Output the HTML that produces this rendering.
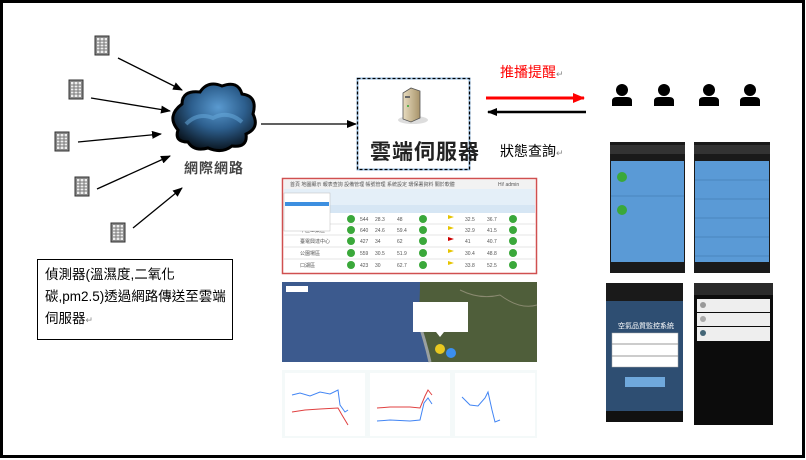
<!DOCTYPE html>
<html><head><meta charset="utf-8"><style>
html,body{margin:0;padding:0;background:#fff}
body{width:806px;height:460px;overflow:hidden;position:relative;font-family:"Liberation Sans","Noto Sans CJK TC",sans-serif}
.t{position:absolute;font-family:"Liberation Sans","Noto Sans CJK TC",sans-serif;white-space:nowrap}
</style></head><body>
<svg width="806" height="460" style="position:absolute;left:0;top:0" xmlns="http://www.w3.org/2000/svg">
<defs>
<marker id="ah" markerWidth="10" markerHeight="8" refX="9" refY="4" orient="auto" markerUnits="userSpaceOnUse"><path d="M0,0L10,4L0,8z" fill="#000"/></marker>
<marker id="ahr" markerWidth="12" markerHeight="10" refX="11" refY="5" orient="auto" markerUnits="userSpaceOnUse"><path d="M0,0L12,5L0,10z" fill="#f00"/></marker>
<radialGradient id="cg" cx="0.55" cy="0.35" r="0.65"><stop offset="0" stop-color="#5a9ad0"/><stop offset="0.5" stop-color="#2d5f8e"/><stop offset="1" stop-color="#0a1520"/></radialGradient>
<linearGradient id="sv" x1="0" x2="1"><stop offset="0" stop-color="#e8dcc0"/><stop offset="1" stop-color="#a8946a"/></linearGradient>
<g id="bld"><rect x="0" y="0" width="14" height="19" fill="#888" stroke="#333" stroke-width="1"/><rect x="2" y="2" width="10" height="15" fill="#eee"/><path d="M2,5H12M2,8H12M2,11H12M2,14H12M5,2V17M9,2V17" stroke="#777" stroke-width="1"/></g>
<g id="ppl"><circle cx="10" cy="6" r="6" fill="#000"/><path d="M0,22V17Q0,13 5,13H15Q20,13 20,17V22z" fill="#000"/></g>
</defs>
<rect x="1.5" y="1.5" width="802" height="455" fill="none" stroke="#000" stroke-width="3"/>
<use href="#bld" x="95" y="36"/><use href="#bld" x="69" y="80"/><use href="#bld" x="55" y="132"/><use href="#bld" x="75" y="177"/><use href="#bld" x="111" y="223"/>
<g stroke="#000" stroke-width="1.3" marker-end="url(#ah)">
<line x1="118" y1="58" x2="182" y2="90"/><line x1="91" y1="98" x2="170" y2="111"/><line x1="78" y1="142" x2="161" y2="134"/><line x1="97" y1="189" x2="170" y2="156"/><line x1="133" y1="228" x2="182" y2="188"/>
<line x1="261" y1="124" x2="356" y2="124"/>
</g>
<g fill="url(#cg)" stroke="#000" stroke-width="3">
<path d="M178,130 Q166,116 182,104 Q182,90 200,92 Q208,80 222,86 Q238,80 242,94 Q258,96 253,114 Q260,128 246,134 Q248,148 232,146 Q222,154 208,148 Q194,152 188,142 Q174,142 178,130z"/>
</g>
<path d="M186,124 Q198,112 213,118 Q228,110 242,122" stroke="#6aaee0" stroke-width="4" fill="none" opacity="0.5"/>
<rect x="357.5" y="78.5" width="112" height="91" fill="#fff" stroke="#9cc3e8" stroke-width="2"/>
<rect x="357.5" y="78.5" width="112" height="91" fill="none" stroke="#000" stroke-width="1.3" stroke-dasharray="3,2"/>
<ellipse cx="413" cy="120" rx="15" ry="4" fill="#ddd"/>
<path d="M403,93L411,88L420,91L420,118L411,122L403,119z" fill="url(#sv)" stroke="#555" stroke-width="0.8"/>
<rect x="405" y="96" width="5" height="2" fill="#666"/><circle cx="408" cy="106" r="1" fill="#3a3"/>
<line x1="486" y1="98" x2="584" y2="98" stroke="#f00" stroke-width="3" marker-end="url(#ahr)"/>
<line x1="586" y1="112" x2="488" y2="112" stroke="#000" stroke-width="2.5" marker-end="url(#ah)"/>
<use href="#ppl" x="612" y="84"/><use href="#ppl" x="654" y="84"/><use href="#ppl" x="699" y="84"/><use href="#ppl" x="740" y="84"/>
<rect x="37.5" y="259.5" width="195" height="80" fill="#fff" stroke="#000" stroke-width="1"/>
<rect x="282.5" y="178.5" width="254" height="95" fill="#fff" stroke="#d05050" stroke-width="1.5"/>
<rect x="284" y="180" width="251" height="9" fill="#f2f2f2"/>
<rect x="284" y="189" width="251" height="16" fill="#e4eff8"/>
<rect x="284" y="205" width="251" height="8" fill="#d6e6f4"/>
<g stroke="#e5e5e5"><line x1="284" y1="224" x2="535" y2="224"/><line x1="284" y1="235" x2="535" y2="235"/><line x1="284" y1="247" x2="535" y2="247"/><line x1="284" y1="259" x2="535" y2="259"/></g>
<g fill="#3aa83a">
<circle cx="351" cy="219" r="4"/><circle cx="351" cy="230" r="4"/><circle cx="351" cy="241" r="4"/><circle cx="351" cy="253" r="4"/><circle cx="351" cy="265" r="4"/>
<circle cx="423" cy="219" r="4"/><circle cx="423" cy="230" r="4"/><circle cx="423" cy="241" r="4"/><circle cx="423" cy="253" r="4"/><circle cx="423" cy="265" r="4"/>
<circle cx="513" cy="219" r="4"/><circle cx="513" cy="230" r="4"/><circle cx="513" cy="241" r="4"/><circle cx="513" cy="253" r="4"/><circle cx="513" cy="265" r="4"/>
</g>
<g fill="#e6c400"><path d="M448,215l6,2l-6,2z"/><path d="M448,226l6,2l-6,2z"/><path d="M448,249l6,2l-6,2z"/><path d="M448,261l6,2l-6,2z"/></g>
<path d="M448,237l6,2l-6,2z" fill="#c00"/>
<g fill="#555" font-size="5" font-family="Liberation Sans"><text x="360" y="221">544</text><text x="360" y="232">640</text><text x="360" y="243">427</text><text x="360" y="255">559</text><text x="360" y="267">423</text>
<text x="375" y="221">28.3</text><text x="397" y="221">48</text><text x="465" y="221">32.5</text><text x="487" y="221">36.7</text>
<text x="375" y="232">24.6</text><text x="397" y="232">59.4</text><text x="465" y="232">32.9</text><text x="487" y="232">41.5</text>
<text x="375" y="243">34</text><text x="397" y="243">62</text><text x="465" y="243">41</text><text x="487" y="243">40.7</text>
<text x="375" y="255">30.5</text><text x="397" y="255">51.9</text><text x="465" y="255">30.4</text><text x="487" y="255">48.8</text>
<text x="375" y="267">30</text><text x="397" y="267">62.7</text><text x="465" y="267">33.8</text><text x="487" y="267">52.5</text>
<text x="300" y="232">中區工業區</text><text x="300" y="243">臺電興達中心</text><text x="300" y="255">公園場區</text><text x="300" y="267">口湖區</text>
<text x="290" y="186">首頁  地圖顯示  報表查詢  設備管理  帳號管理  系統設定  環保署資料  關於軟體</text><text x="498" y="186">Hi! admin</text></g>
<rect x="284" y="193" width="46" height="38" fill="#fff" stroke="#bbb" stroke-width="0.5"/>
<rect x="285" y="202" width="44" height="4" fill="#3d8fe0"/>
<rect x="282" y="282" width="255" height="80" fill="#3c5a8e"/>
<path d="M420,282L537,282L537,362L430,362Q425,340 418,320Q420,300 420,282z" fill="#4f5e3a"/>
<path d="M460,290Q480,300 500,295Q520,310 537,305" stroke="#8a8a70" fill="none"/>
<path d="M418,320Q425,340 430,362" stroke="#9aa0a0" stroke-width="3" fill="none"/>
<rect x="286" y="286" width="22" height="6" fill="#fff"/>
<rect x="413" y="302" width="55" height="30" fill="#fff"/>
<path d="M436,332L440,337L444,332z" fill="#fff"/>
<circle cx="440" cy="349" r="5" fill="#e8c820"/><circle cx="451" cy="353" r="5" fill="#3b8ff0"/>
<rect x="282" y="370" width="255" height="68" fill="#f4f9f9"/>
<rect x="285" y="373" width="80" height="63" fill="#fff"/><rect x="370" y="373" width="80" height="63" fill="#fff"/><rect x="455" y="373" width="80" height="63" fill="#fff"/>
<polyline points="292,395 300,393 310,396 320,392 330,394 338,390 340,405 345,412 348,410" stroke="#4285f4" fill="none"/>
<polyline points="292,412 305,410 320,409 338,408 342,415 348,425" stroke="#e04040" fill="none"/>
<polyline points="377,408 390,407 410,407 420,408 425,396 428,390 432,395" stroke="#e04040" fill="none"/>
<polyline points="377,421 390,420 410,421 420,420 424,403 428,398 432,404" stroke="#4285f4" fill="none"/>
<polyline points="462,397 470,405 478,406 485,398 488,392 492,410 495,422 500,420" stroke="#4285f4" fill="none"/>
<rect x="610" y="142" width="75" height="131" fill="#1a1a1a"/>
<rect x="610" y="145" width="75" height="9" fill="#333"/>
<rect x="611" y="161" width="73" height="101" fill="#5a9ad6"/>
<line x1="611" y1="196" x2="684" y2="196" stroke="#4a86be"/>
<circle cx="622" cy="177" r="5" fill="#3aa83a"/><circle cx="622" cy="210" r="5" fill="#3aa83a"/>
<rect x="694" y="142" width="76" height="131" fill="#1a1a1a"/>
<rect x="694" y="145" width="76" height="9" fill="#333"/>
<rect x="695" y="161" width="74" height="101" fill="#5a9ad6"/>
<g stroke="#4a86be"><line x1="695" y1="180" x2="769" y2="180"/><line x1="695" y1="199" x2="769" y2="199"/><line x1="695" y1="218" x2="769" y2="218"/><line x1="695" y1="237" x2="769" y2="237"/><line x1="695" y1="256" x2="769" y2="256"/></g>
<rect x="606" y="283" width="77" height="139" fill="#2e4e72"/>
<rect x="606" y="283" width="77" height="18" fill="#1a1a1a"/>
<rect x="606" y="411" width="77" height="11" fill="#111"/>
<rect x="612" y="333" width="66" height="34" fill="#fff" stroke="#aaa" stroke-width="0.5"/>
<line x1="612" y1="344" x2="678" y2="344" stroke="#999"/><line x1="612" y1="356" x2="678" y2="356" stroke="#999"/>
<rect x="625" y="377" width="40" height="10" fill="#6fa8dc"/>
<rect x="694" y="283" width="79" height="142" fill="#0c0c0c"/>
<rect x="694" y="283" width="79" height="12" fill="#2a2a2a"/>
<rect x="697" y="299" width="73" height="13" fill="#eee"/><rect x="697" y="313" width="73" height="13" fill="#eee"/><rect x="697" y="327" width="73" height="14" fill="#eee"/>
<circle cx="703" cy="305" r="3" fill="#999"/><circle cx="703" cy="319" r="3" fill="#aaa"/><circle cx="703" cy="333" r="3" fill="#467"/>
</svg>
<div class="t" style="left:184px;top:158px;font-size:14px;font-weight:bold;color:#444;letter-spacing:1px">網際網路</div>
<div class="t" style="left:370px;top:136px;font-size:21px;font-weight:bold;color:#222;letter-spacing:1px">雲端伺服器</div>
<div class="t" style="left:500px;top:62px;font-size:14px;color:#f00">推播提醒<span style="color:#888;font-size:9px">↵</span></div>
<div class="t" style="left:500px;top:141px;font-size:14px;color:#000">狀態查詢<span style="color:#888;font-size:9px">↵</span></div>
<div class="t" style="left:45px;top:264px;font-size:13.5px;line-height:22px;color:#000;white-space:normal;width:185px">偵測器(溫濕度,二氧化碳,pm2.5)透過網路傳送至雲端伺服器<span style="color:#888;font-size:9px">↵</span></div>
<div class="t" style="left:618px;top:321px;font-size:7px;color:#fff">空氣品質監控系統</div>
</body></html>
